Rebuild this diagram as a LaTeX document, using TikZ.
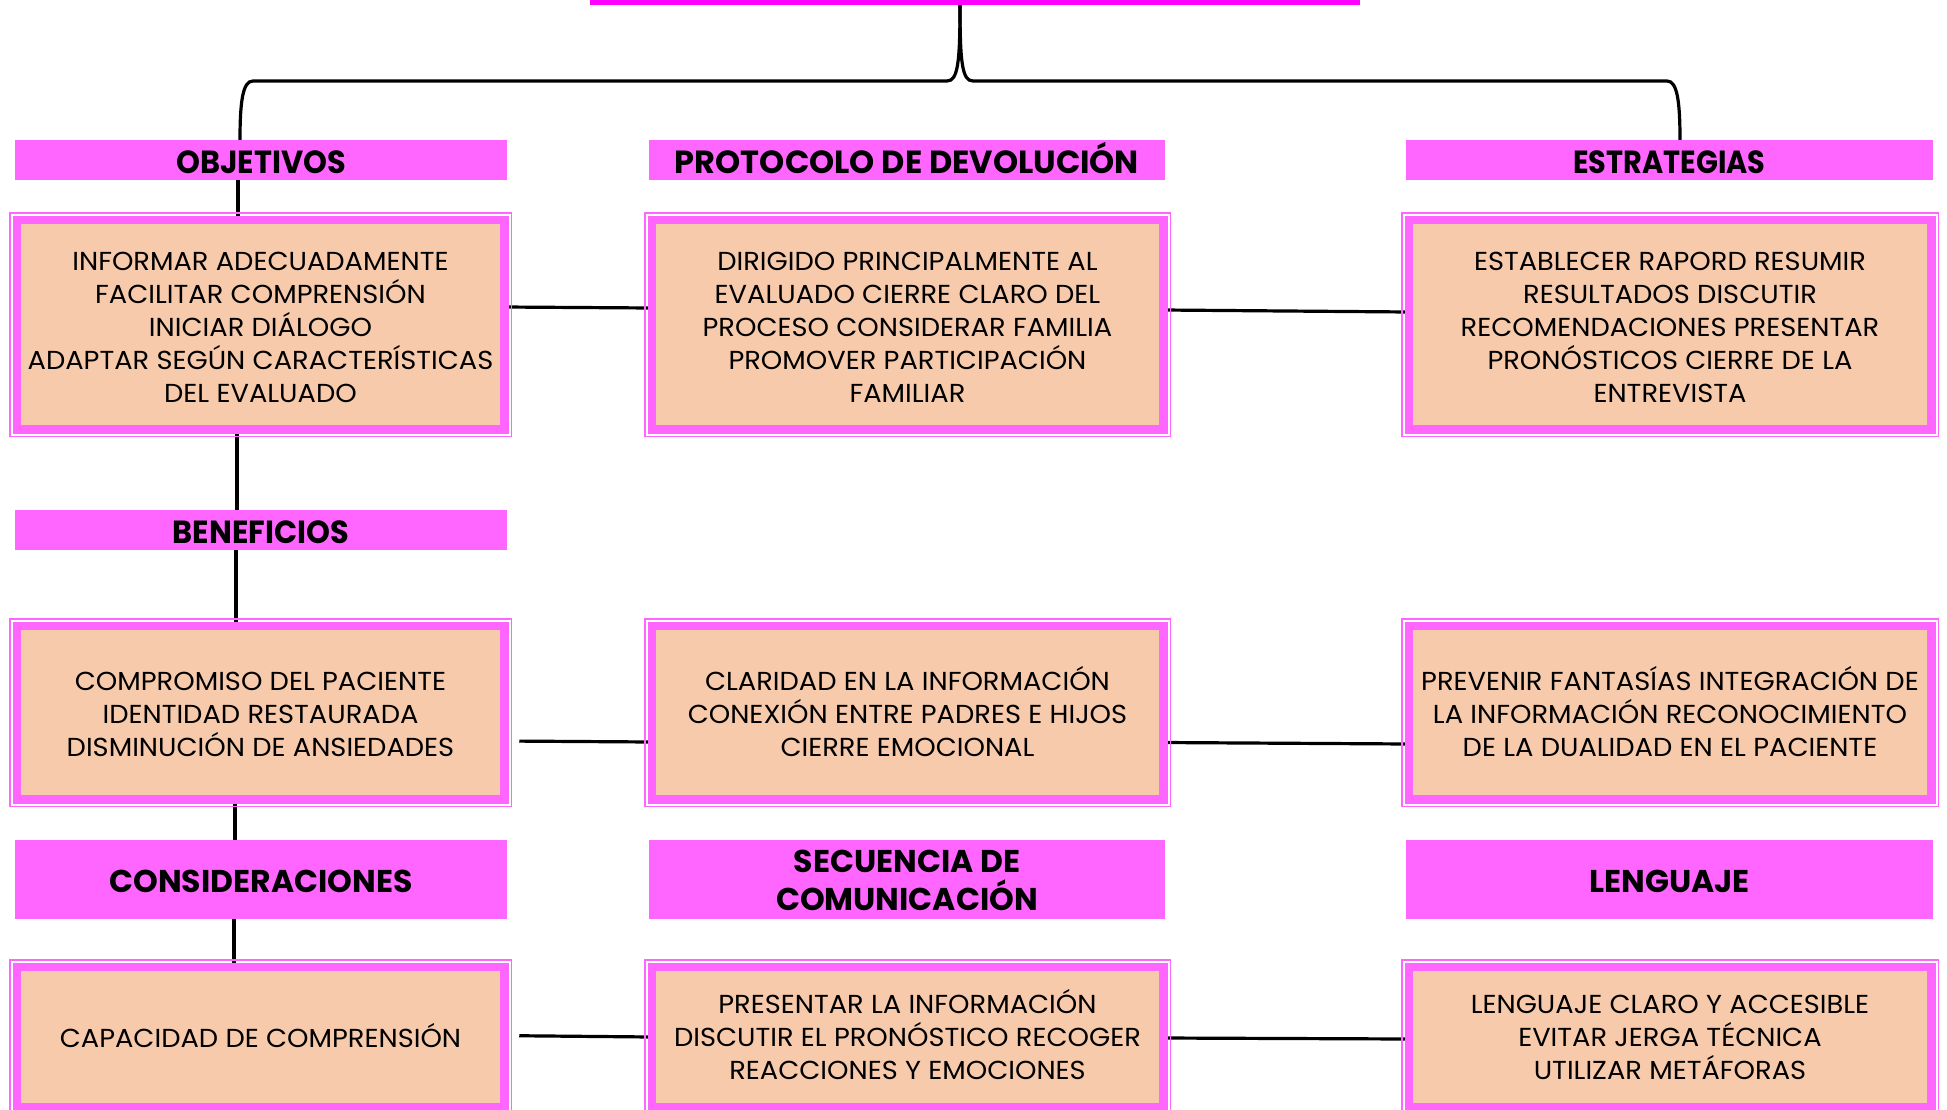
\documentclass[tikz,border=0pt]{standalone}
\usepackage{fontspec}
\setmainfont{Poppins}[FakeStretch=1.05]
\newfontfamily\hcond{Poppins}[FakeStretch=0.95]
\newfontfamily\hnarrow{Poppins}[FakeStretch=0.9]
\newfontfamily\hbold{Poppins}
\newcommand\fstrut[1]{\rule{0pt}{#1}}
\usetikzlibrary{backgrounds}
\definecolor{peach}{HTML}{F7CAAC}
\definecolor{pinkhdr}{HTML}{FF66FF}
\definecolor{magbar}{HTML}{FF00FF}
\begin{document}
\begin{tikzpicture}[x=1pt,y=-1pt,
  hdr/.style={fill=pinkhdr, inner sep=0pt, outer sep=0pt, align=center, text=black},
  hdra/.style={hdr, font=\hcond\bfseries\fontsize{32}{38}\selectfont,
    execute at begin node={\rule{0pt}{30.4pt}}, execute at end node={\rule[-4pt]{0pt}{4pt}}},
  hdrb/.style={hdr, font=\hbold\bfseries\fontsize{31.5}{38}\selectfont,
    execute at begin node={\rule{0pt}{29.5pt}}, execute at end node={\rule[-4pt]{0pt}{4pt}}},
  boxst/.style={fill=peach, draw=pinkhdr, line width=8.5pt, inner sep=0pt, outer sep=0pt,
    align=center, text=black, font=\fontsize{26}{33}\selectfont,
    execute at end node={\rule[-8pt]{0pt}{8pt}}},
  colL/.style={minimum width=487.5pt},
  colM/.style={minimum width=511.5pt},
  colR/.style={minimum width=522.5pt},
  conn/.style={line width=3.2pt, black},
]
\useasboundingbox (0,0) rectangle (1947,1109);
\clip (0,0) rectangle (1947,1109);

% title bar
\node[fill=magbar, inner sep=0pt, outer sep=0pt, minimum width=770pt, minimum height=5pt] (bar) at (975,2.5) {};

% headers
\node[hdra, minimum width=492pt, minimum height=40pt] (h1) at (261,160) {OBJETIVOS};
\node[hdra, font=\hbold\bfseries\fontsize{32}{38}\selectfont, minimum width=516pt, minimum height=40pt] (h2) at (907,160) {PROTOCOLO DE DEVOLUCIÓN};
\node[hdra, font=\hnarrow\bfseries\fontsize{32}{38}\selectfont, minimum width=527pt, minimum height=40pt] (h3) at (1669.5,160) {ESTRATEGIAS};
\node[hdra, minimum width=492pt, minimum height=40pt] (h4) at (261,530) {BENEFICIOS};
\node[hdrb, minimum width=492pt, minimum height=79pt] (h5) at (261,879.5) {CONSIDERACIONES};
\node[hdrb, minimum width=516pt, minimum height=79pt] (h6) at (907,879.5) {\fstrut{28pt}SECUENCIA DE\\COMUNICACIÓN};
\node[hdrb, minimum width=527pt, minimum height=79pt] (h7) at (1669.5,879.5) {LENGUAJE};

% boxes row 1
\node[boxst, colL, minimum height=209.5pt] (b1) at (260.5,324.5)
  {\fstrut{31.6pt}INFORMAR ADECUADAMENTE\\FACILITAR COMPRENSIÓN\\INICIAR DIÁLOGO\\ADAPTAR SEGÚN CARACTERÍSTICAS\\DEL EVALUADO};
\node[boxst, colM, minimum height=209.5pt] (b2) at (907.5,324.5)
  {\fstrut{31.6pt}DIRIGIDO PRINCIPALMENTE AL\\EVALUADO CIERRE CLARO DEL\\PROCESO CONSIDERAR FAMILIA\\PROMOVER PARTICIPACIÓN\\FAMILIAR};
\node[boxst, colR, minimum height=209.5pt] (b3) at (1670,324.5)
  {\fstrut{31.6pt}ESTABLECER RAPORD RESUMIR\\RESULTADOS DISCUTIR\\RECOMENDACIONES PRESENTAR\\PRONÓSTICOS CIERRE DE LA\\ENTREVISTA};
% boxes row 2
\node[boxst, colL, minimum height=173.5pt] (b4) at (260.5,712.5)
  {\fstrut{29.8pt}COMPROMISO DEL PACIENTE\\IDENTIDAD RESTAURADA\\DISMINUCIÓN DE ANSIEDADES};
\node[boxst, colM, minimum height=173.5pt] (b5) at (907.5,712.5)
  {\fstrut{29.8pt}CLARIDAD EN LA INFORMACIÓN\\CONEXIÓN ENTRE PADRES E HIJOS\\CIERRE EMOCIONAL};
\node[boxst, colR, minimum height=173.5pt] (b6) at (1670,712.5)
  {\fstrut{29.8pt}PREVENIR FANTASÍAS INTEGRACIÓN DE\\LA INFORMACIÓN RECONOCIMIENTO\\DE LA DUALIDAD EN EL PACIENTE};
% boxes row 3
\node[boxst, colL, minimum height=140.5pt] (b7) at (260.5,1037)
  {\fstrut{29pt}CAPACIDAD DE COMPRENSIÓN};
\node[boxst, colM, minimum height=140.5pt] (b8) at (907.5,1037)
  {\fstrut{26pt}PRESENTAR LA INFORMACIÓN\\DISCUTIR EL PRONÓSTICO RECOGER\\REACCIONES Y EMOCIONES};
\node[boxst, colR, minimum height=140.5pt] (b9) at (1670,1037)
  {\fstrut{26pt}LENGUAJE CLARO Y ACCESIBLE\\EVITAR JERGA TÉCNICA\\UTILIZAR METÁFORAS};

% thin outer frames
\foreach \n in {b1,b2,b3,b4,b5,b6,b7,b8,b9}
  \draw[pinkhdr, line width=1.5pt] ([xshift=-7pt,yshift=7pt]\n.north west) rectangle ([xshift=7pt,yshift=-7pt]\n.south east);

% helper coordinates
\coordinate (tx) at (960,0);
\coordinate (lx) at (240,0);
\coordinate (rx) at (1680,0);
\coordinate (vx1) at (238,0);
\coordinate (vx2) at (237,0);
\coordinate (vx3) at (236,0);
\coordinate (vx4) at (235,0);
\coordinate (vx5) at (234,0);

\begin{scope}[on background layer]
  % top branches
  \draw[conn] (bar.south -| tx) .. controls (960,62) and (958,81) .. (947,81) -- (253,81)
     .. controls (243,81) and (240,100) .. (h1.north -| lx);
  \draw[conn] (bar.south -| tx) .. controls (960,62) and (962,81) .. (973,81) -- (1667,81)
     .. controls (1677,81) and (1680,100) .. (h3.north -| rx);
  % left column chain
  \draw[conn] (h1.south -| vx1) -- (b1.north -| vx1);
  \draw[conn] (b1.south -| vx2) -- (h4.north -| vx2);
  \draw[conn] (h4.south -| vx3) -- (b4.north -| vx3);
  \draw[conn] (b4.south -| vx4) -- (h5.north -| vx4);
  \draw[conn] (h5.south -| vx5) -- (b7.north -| vx5);
  % row connectors
  \draw[conn] ([yshift=17.5pt]b1.east) -- ([yshift=16.5pt]b2.west);
  \draw[conn] ([yshift=14.5pt]b2.east) -- ([yshift=12.5pt]b3.west);
  \draw[conn, shorten <=15pt] ([yshift=-28.5pt]b4.east) -- ([yshift=-29.5pt]b5.west);
  \draw[conn] ([yshift=-30pt]b5.east) -- ([yshift=-31.5pt]b6.west);
  \draw[conn, shorten <=15pt] ([yshift=1.4pt]b7.east) -- ([yshift=0pt]b8.west);
  \draw[conn] ([yshift=-1pt]b8.east) -- ([yshift=-2pt]b9.west);
\end{scope}
\end{tikzpicture}
\end{document}
